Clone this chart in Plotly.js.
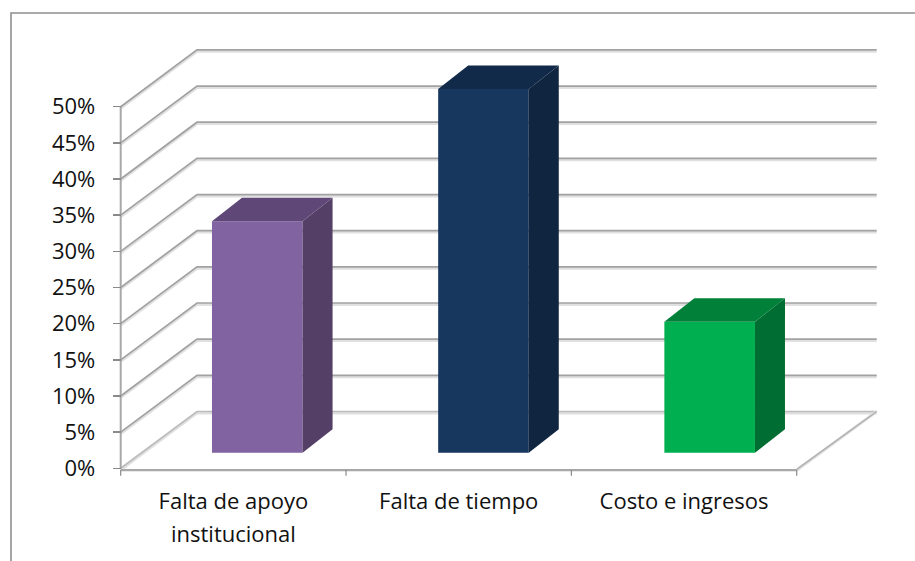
<!DOCTYPE html>
<html><head><meta charset="utf-8">
<script src="https://cdn.plot.ly/plotly-3.0.1.min.js"></script>
<style>html,body{margin:0;padding:0;background:#fff}#c{width:915px;height:561px}</style>
</head><body><div id="c"></div>
<script>
const categoryLine1 = ["Falta de apoyo", "Falta de tiempo", "Costo e ingresos"];
const categoryLine2 = ["institucional", "", ""];
const values = [0.32, 0.503, 0.181];
const frontColors = ["#8163a1", "#17375e", "#00b050"];
const sideColors = ["#543f66", "#0f2540", "#006e32"];
const topColors = ["#5f4878", "#112a4a", "#008038"];
const yTicks = [0, 0.05, 0.10, 0.15, 0.20, 0.25, 0.30, 0.35, 0.40, 0.45, 0.50];
const yTickLabels = ["0%","5%","10%","15%","20%","25%","30%","35%","40%","45%","50%"];

const W = 915, H = 561;
const x0 = 120.7, xEnd = 880, y0 = 468.3, yTop = 44, padX = 4, padY = 12;
const pxX = (796.7 - 120.7) / 3, pxY = 723.2;
const wallX = 76.3 / pxX, wallY = 56.8 / pxY, wallEnd = 80 / pxX;
const barW = 90.6 / pxX, barStart = 0.5 + 23.9 / pxX, barStep = 226.2 / pxX, barBase = 15.6 / pxY;
const depthX = 30 / pxX, depthY = 23.5 / pxY;
const nCat = categoryLine1.length;
const font = {family: "'Open Sans', sans-serif", size: 22, color: "#111"};
const traces = [];
const common = {mode: "lines", hoverinfo: "skip", showlegend: false};

function line(xs, ys, color, width, z) {
  traces.push(Object.assign({}, common, {x: xs, y: ys, line: {color, width}, zorder: z || 1}));
}
// gridlines with soft shadow
const sh = 1.4 / pxY;
yTicks.forEach(v => {
  const gx = [0, wallX, nCat + wallEnd];
  const gy = [v, v + wallY, v + wallY];
  line(gx, gy.map(a => a - sh), "#e0e0e0", 3);
  line(gx, gy, v === 0 ? "#bcbcbc" : "#a2a2a2", 1.7);
});
// floor right edge
line([nCat, nCat + wallEnd], [-2 / pxY, wallY], "#e0e0e0", 3);
line([nCat, nCat + wallEnd], [-1 / pxY, wallY], "#b0b0b0", 1.5);
// value axis line
line([0, 0], [0, 0.5], "#a8a8a8", 2);
// category axis line + ticks
const axisY = -1.8 / pxY;
line([0, nCat], [axisY, axisY], "#a8a8a8", 2.2);
for (let i = 0; i <= nCat; i++) line([i, i], [axisY, -7.5 / pxY], "#8a8a8a", 1.2);

// bars: front through the bar trace, top and side from the same values
const centers = values.map((v, i) => barStart + i * barStep);
traces.push({type: "bar", x: centers, y: values, base: values.map(() => barBase), width: barW,
  marker: {color: frontColors, line: {width: 0}}, hoverinfo: "skip", showlegend: false, zorder: 2});
values.forEach((v, i) => {
  const l = centers[i] - barW / 2, r = centers[i] + barW / 2, b = barBase, t = barBase + v;
  traces.push(Object.assign({}, common, {
    x: [r, r + depthX, r + depthX, r, r], y: [b, b + depthY, t + depthY, t, b],
    fill: "toself", fillcolor: sideColors[i], line: {width: 0}, zorder: 2}));
  traces.push(Object.assign({}, common, {
    x: [l, l + depthX, r + depthX, r, l], y: [t, t + depthY, t + depthY, t, t],
    fill: "toself", fillcolor: topColors[i], line: {width: 0}, zorder: 2}));
});

const layout = {
  width: W, height: H, paper_bgcolor: "#fff", plot_bgcolor: "rgba(0,0,0,0)",
  margin: {l: 0, r: 0, t: 0, b: 0}, showlegend: false, barmode: "overlay",
  xaxis: {domain: [(x0 - padX) / W, xEnd / W], range: [-padX / pxX, (xEnd - x0) / pxX], showgrid: false, zeroline: false,
    showline: false, tickmode: "array", tickvals: categoryLine1.map((c, i) => i + 0.5),
    ticktext: categoryLine1, ticks: "", ticklabelstandoff: 6,
    tickfont: font, automargin: false, fixedrange: true},
  yaxis: {anchor: "free", position: x0 / W,
    domain: [(H - y0 - padY) / H, (H - yTop) / H], range: [-padY / pxY, (y0 - yTop) / pxY], showgrid: false,
    zeroline: false, showline: false, tickmode: "array", tickvals: yTicks, ticktext: yTickLabels,
    ticks: "outside", ticklen: 8, tickwidth: 1.5, tickcolor: "#8a8a8a", tickfont: font,
    ticklabelstandoff: 13, automargin: false, fixedrange: true},
  annotations: categoryLine2.map((t, i) => ({text: t, x: i + 0.5, xref: "x", yref: "paper",
    y: (H - 533) / H, yanchor: "middle", xanchor: "center", showarrow: false, font})).filter(a => a.text),
  shapes: [{type: "path", xref: "paper", yref: "paper",
    path: `M ${11 / W} 0 L ${11 / W} ${(H - 13) / H} L 1 ${(H - 13) / H}`,
    line: {color: "#8f8f8f", width: 1.6}}]
};
Plotly.newPlot("c", traces, layout, {displayModeBar: false, staticPlot: true});
</script></body></html>
